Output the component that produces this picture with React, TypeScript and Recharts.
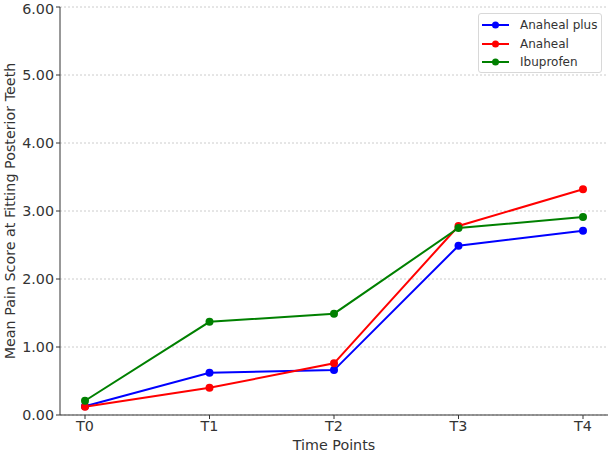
import React from 'react';
import { LineChart, Line, XAxis, YAxis, CartesianGrid } from 'recharts';

const timePoints = ['T0', 'T1', 'T2', 'T3', 'T4'];
const anahealPlus = [0.13, 0.62, 0.66, 2.49, 2.71];
const anaheal = [0.12, 0.40, 0.76, 2.78, 3.32];
const ibuprofen = [0.21, 1.37, 1.49, 2.75, 2.91];
const yTicks = [0, 1, 2, 3, 4, 5, 6];

const seriesInfo = [
  { key: 'anahealPlus', name: 'Anaheal plus', color: '#0000ff' },
  { key: 'anaheal', name: 'Anaheal', color: '#ff0000' },
  { key: 'ibuprofen', name: 'Ibuprofen', color: '#008000' },
];

const data = timePoints.map((t, i) => ({
  t,
  anahealPlus: anahealPlus[i],
  anaheal: anaheal[i],
  ibuprofen: ibuprofen[i],
}));

const FONT = '"DejaVu Sans", sans-serif';
const FS = 14.3;

const LegendBox = () => (
  <div
    style={{
      position: 'absolute',
      left: 478,
      top: 13,
      border: '1px solid #d8d8d8',
      borderRadius: 3,
      background: 'rgba(255,255,255,0.8)',
      width: 124,
      height: 60,
      padding: '2px 0 0 0',
      fontFamily: FONT,
      fontSize: 12,
      color: '#333',
      boxSizing: 'border-box',
    }}
  >
    {seriesInfo.map((s) => (
      <div key={s.key} style={{ display: 'flex', alignItems: 'center', height: 18.5, whiteSpace: 'nowrap' }}>
        <svg width={39} height={10} style={{ marginLeft: 2, flex: 'none' }}>
          <line x1={1} y1={5} x2={28} y2={5} stroke={s.color} strokeWidth={2} />
          <circle cx={14.5} cy={5} r={3.5} fill={s.color} />
        </svg>
        <span>{s.name}</span>
      </div>
    ))}
  </div>
);

export default function App() {
  return (
    <div style={{ position: 'absolute', left: 0, top: 0, width: 611, height: 454, background: '#fff' }}>
      <LineChart width={611} height={454} data={data} margin={{ top: 7, right: 3, bottom: 9, left: 0 }}>
        <CartesianGrid vertical={false} stroke="#cccccc" strokeDasharray="2 2" />
        <XAxis
          dataKey="t"
          padding={{ left: 25, right: 25 }}
          height={30}
          tickSize={4}
          tickMargin={2}
          stroke="#333"
          tick={{ fill: '#333', fontSize: FS, fontFamily: FONT }}
          label={{ value: 'Time Points', position: 'bottom', offset: -5, fill: '#333', fontSize: FS, fontFamily: FONT }}
        />
        <YAxis
          domain={[0, 6]}
          ticks={yTicks}
          width={60}
          tickSize={4}
          tickMargin={2}
          stroke="#333"
          tickFormatter={(v: number) => v.toFixed(2)}
          tick={{ fill: '#333', fontSize: FS, fontFamily: FONT }}
          label={{
            value: 'Mean Pain Score at Fitting Posterior Teeth',
            angle: -90,
            position: 'insideLeft',
            offset: 10,
            fill: '#333',
            fontSize: FS,
            fontFamily: FONT,
            style: { textAnchor: 'middle' },
          }}
        />
        {seriesInfo.map((s) => (
          <Line
            key={s.key}
            type="linear"
            dataKey={s.key}
            name={s.name}
            stroke={s.color}
            strokeWidth={2}
            dot={{ r: 4, fill: s.color, stroke: s.color, strokeWidth: 0 }}
            activeDot={false}
            isAnimationActive={false}
          />
        ))}
      </LineChart>
      <LegendBox />
    </div>
  );
}
